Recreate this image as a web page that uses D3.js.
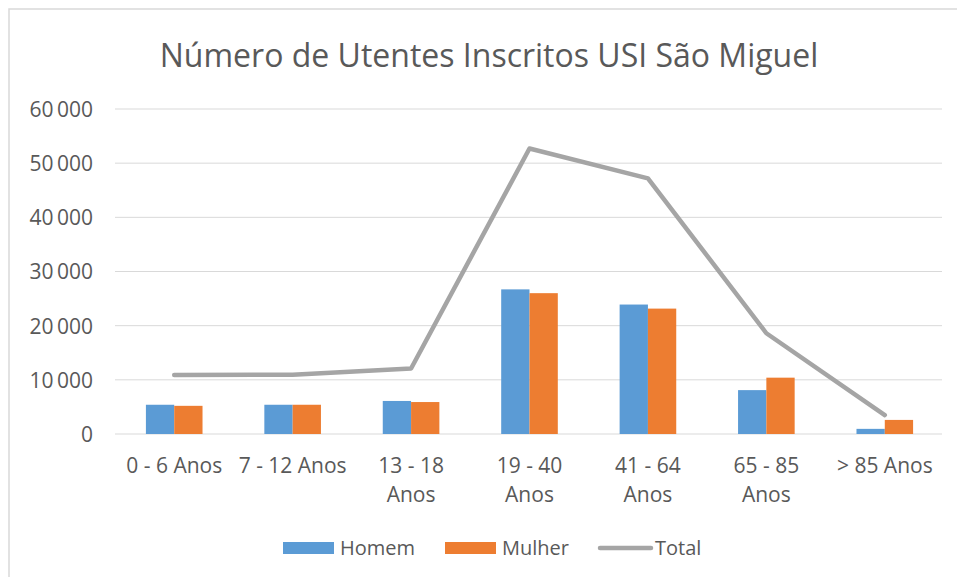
<!DOCTYPE html>
<html>
<head>
<meta charset="utf-8">
<script src="https://cdn.jsdelivr.net/npm/d3@7"></script>
<style>
  html, body { margin: 0; padding: 0; background: #fff; }
  svg { display: block; font-family: "Open Sans", sans-serif; }
</style>
</head>
<body>
<svg id="chart" width="957" height="577"></svg>
<script>
const categories = ["0 - 6 Anos", "7 - 12 Anos", "13 - 18 Anos", "19 - 40 Anos", "41 - 64 Anos", "65 - 85 Anos", "> 85 Anos"];
const homem = [5400, 5400, 6100, 26700, 23900, 8100, 950];
const mulher = [5200, 5400, 5900, 26000, 23150, 10400, 2600];
const total = [10900, 10950, 12100, 52700, 47200, 18600, 3500];
const yTicks = [0, 10000, 20000, 30000, 40000, 50000, 60000];
const seriesNames = ["Homem", "Mulher", "Total"];
const colors = { Homem: "#5b9bd5", Mulher: "#ed7d31", Total: "#a5a5a5" };
const title = "Número de Utentes Inscritos USI São Miguel";

const svg = d3.select("#chart");
const textColor = "#595959";

// outer border
svg.append("rect").attr("x", 9).attr("y", 9).attr("width", 960).attr("height", 580)
  .attr("fill", "none").attr("stroke", "#d9d9d9").attr("stroke-width", 1.5);

const plot = { left: 115, right: 944, top: 109, bottom: 434 };

const x = d3.scaleBand().domain(categories).range([plot.left, plot.right])
  .paddingInner(0.522).paddingOuter(0.261);
const xs = d3.scaleBand().domain(["Homem", "Mulher"]).range([0, x.bandwidth()]);
const y = d3.scaleLinear().domain([0, 60000]).range([plot.bottom, plot.top]);

const fmt = d3.formatLocale({ decimal: ",", thousands: "\u2009", grouping: [3], currency: ["", "€"] }).format(",d");

// gridlines
svg.append("g").selectAll("line").data(yTicks).join("line")
  .attr("x1", plot.left).attr("x2", 942)
  .attr("y1", d => y(d)).attr("y2", d => y(d))
  .attr("stroke", "#d9d9d9").attr("stroke-width", 1);

// y axis labels
const yAxis = d3.axisLeft(y).tickValues(yTicks).tickFormat(fmt).tickSize(0).tickPadding(0);
const yg = svg.append("g").attr("transform", "translate(93,0)").call(yAxis);
yg.select(".domain").remove();
yg.selectAll("text").attr("fill", textColor).style("font-size", "21px")
  .style("font-family", "'Open Sans', sans-serif").attr("dy", "0.35em");

// bars
const rows = categories.map((c, i) => ({ c, Homem: homem[i], Mulher: mulher[i] }));
svg.append("g").selectAll("g").data(rows).join("g")
  .attr("transform", d => `translate(${x(d.c)},0)`)
  .selectAll("rect").data(d => ["Homem", "Mulher"].map(k => ({ k, v: d[k] }))).join("rect")
  .attr("x", d => xs(d.k)).attr("width", xs.bandwidth())
  .attr("y", d => y(d.v)).attr("height", d => y(0) - y(d.v))
  .attr("fill", d => colors[d.k]);

// total line
const line = d3.line().x((d, i) => x(categories[i]) + x.bandwidth() / 2).y(d => y(d));
svg.append("path").datum(total).attr("d", line)
  .attr("fill", "none").attr("stroke", colors.Total).attr("stroke-width", 4.5)
  .attr("stroke-linecap", "round").attr("stroke-linejoin", "round");

// x axis labels
const xAxis = d3.axisBottom(x).tickSize(0).tickPadding(0);
const xg = svg.append("g").attr("transform", `translate(0,${plot.bottom})`).call(xAxis);
xg.select(".domain").remove();
xg.selectAll("text").attr("fill", textColor).style("font-size", "21px")
  .style("font-family", "'Open Sans', sans-serif").attr("dy", null).attr("y", 39)
  .each(function (d) {
    const t = d3.select(this);
    if (this.getComputedTextLength() > 113) {
      const words = d.split(" ");
      const first = words.slice(0, words.length - 1).join(" ");
      const last = words[words.length - 1];
      t.text(null);
      t.append("tspan").attr("x", 0).attr("y", 39).text(first);
      t.append("tspan").attr("x", 0).attr("y", 68).text(last);
    }
  });

// title
svg.append("text").attr("x", 489).attr("y", 67).attr("text-anchor", "middle")
  .attr("fill", textColor).style("font-size", "32px").style("font-weight", 400)
  .text(title);

// legend
const legendItems = [
  { name: "Homem", x: 283, type: "rect" },
  { name: "Mulher", x: 445, type: "rect" },
  { name: "Total", x: 598, type: "line" }
];
const lg = svg.append("g");
legendItems.forEach(it => {
  if (it.type === "rect") {
    lg.append("rect").attr("x", it.x).attr("y", 542).attr("width", 51).attr("height", 12)
      .attr("fill", colors[it.name]);
  } else {
    lg.append("line").attr("x1", it.x + 2).attr("x2", it.x + 53).attr("y1", 548).attr("y2", 548)
      .attr("stroke", colors[it.name]).attr("stroke-width", 4.5).attr("stroke-linecap", "round");
  }
  lg.append("text").attr("x", it.x + 57).attr("y", 555).attr("fill", textColor)
    .style("font-size", "20px").text(it.name);
});
</script>
</body>
</html>
